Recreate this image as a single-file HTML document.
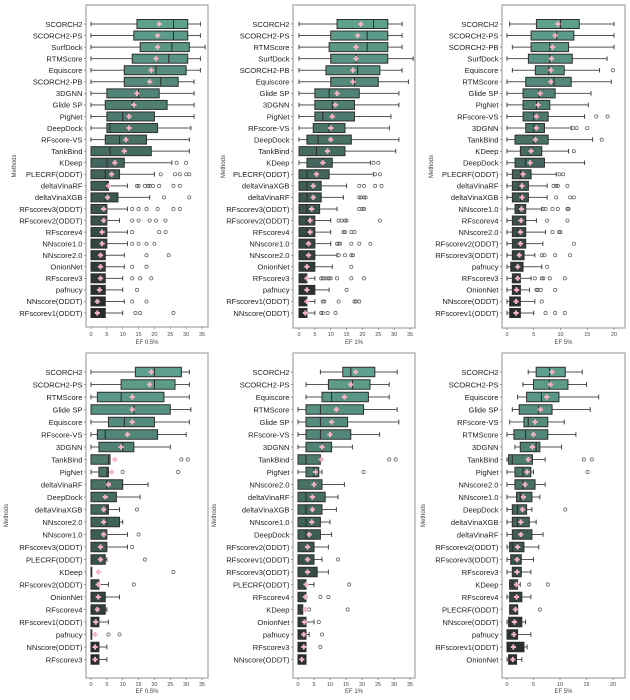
<!DOCTYPE html>
<html><head><meta charset="utf-8"><style>
html,body{margin:0;padding:0;background:#fff;}
svg{display:block;font-family:"Liberation Sans","DejaVu Sans",sans-serif;}
</style></head><body>
<svg id="s" width="630" height="700" viewBox="0 0 630 700" xmlns="http://www.w3.org/2000/svg"></svg>
<script>
const P=[
{fx0:86,fx1:208,fy0:5,fy1:327,x0:91,x1:202,max:35,ticks:[0,5,10,15,20,25,30,35],y0:24,step:11.56,bh:9,ty:334,xl:'EF 0.5%',xly:344,ylx:16,
d:[["SCORCH2",0,14.5,26,30.5,34.5,21.5],["SCORCH2-PS",0,13.5,26,30.5,34.5,21],["SurfDock",0,15.5,25.5,31,36,21],["RTMScore",0,13,24.5,30.5,34.5,20.5],["Equiscore",0,10.5,20.5,30,34.5,19],["SCORCH2-PB",0,10.5,22,27.5,32.5,18.5],["3DGNN",0,5,15,21.5,32.5,14.5],["Glide SP",0,4.5,13,24,32.5,13.5],["PigNet",0,5,10,20,32.5,12],["DeepDock",0,5,6,21,31.5,12],["RFscore-VS",0,4.5,9,17.5,31,11],["TankBind",0,0,6,19,31,10.5],["KDeep",0,0,5,10.5,25.5,7.5,27,30],["PLECRF(ODDT)",0,0,4.5,9,20,6.5,22,26.5,28,30,31],["deltaVinaRF",0,0,5,5.5,11.5,5.5,14.5,15,17,18,18.5,19.5,21.5,26,28],["deltaVinaXGB",0,0,4.5,8.5,18.5,5.2,23,31],["RFscorev3(ODDT)",0,0,4,5,11.5,4,13,15,17.5,21,26,28],["RFscorev2(ODDT)",0,0,4,5,9,4,13,15,18.5,20.5,23.5],["RFscorev4",0,0,4,5,11.5,3.5,13,21.5,23.5],["NNscore1.0",0,0,4,5,11.5,3.5,13,15,17.5,20],["NNscore2.0",0,0,3,4.5,10.5,3,17.5,24.5],["OnionNet",0,0,3,4.5,10.5,3,13,17.5],["RFscorev3",0,0,3,4.5,10,3,13,15.5,19],["pafnucy",0,0,3,4.5,10,2.7,14.5],["NNscore(ODDT)",0,0,2,4.5,10.5,2,13,17.5],["RFscorev1(ODDT)",0,0,2,4.5,10,2,14,15.5,26]]},
{fx0:293,fx1:415,fy0:5,fy1:328,x0:299,x1:410,max:35,ticks:[0,5,10,15,20,25,30,35],y0:24,step:11.56,bh:9,ty:334,xl:'EF 1%',xly:344,ylx:225,
d:[["SCORCH2",0,12,23.5,28,32.5,19.5],["SCORCH2-PS",0,10,21.5,28,32.5,18.5],["RTMScore",0,9.5,21.5,28,32.5,18],["SurfDock",0,10,18,28,36,18],["SCORCH2-PB",0,8.5,18.5,25.5,32.5,17],["Equiscore",0,10,17.5,25,34.5,17],["Glide SP",0,5,9.5,19,31.5,12],["3DGNN",0,5,10.5,17.5,31.5,11.5],["PigNet",0,5,7.5,17.5,29,10.5],["RFscore-VS",0,4.5,9.5,14.5,28.5,10],["DeepDock",0,2.5,6,16.5,31.5,10],["TankBind",0,0,5.5,14.5,30.5,9],["KDeep",0,2.5,7.5,10.5,22.5,7.5,23.5,25],["PLECRF(ODDT)",0,0,2.5,9.5,23.5,5.5,24,25.5],["deltaVinaXGB",0,0,2.5,7,15,4.5,19,20.5,24,26],["deltaVinaRF",0,0,2.5,7,14,4.5,19,19.5,20.5,21],["RFscorev3(ODDT)",0,0,2.5,6.5,12,4,19,20,20.5],["RFscorev2(ODDT)",0,0,2.5,5,10,3.5,12.5,13.5,14.5,15,25.5],["RFscorev4",0,0,2.5,5,10,3.5,14,14.5,16.5,17.5],["NNscore1.0",0,0,2.5,5,10,3,12,12.5,13,16.5,19,22.5],["NNscore2.0",0,0,2.5,5,12,3,12.5,14.5,16.5,17],["OnionNet",0,0,2.5,5,10.5,2.5,16.5],["RFscorev3",0,0,0,2.5,5,2.5,7,7.5,8,9,9.5,10,12,16.5,20.5],["pafnucy",0,0,2.5,5,9.5,2.5,15],["RFscorev1(ODDT)",0,0,0,2.5,5,2.5,7.5,8,12.5,17.5,18,19],["NNscore(ODDT)",0,0,0,2.5,5,2,7,7.5,9,11.5]]},
{fx0:502,fx1:625,fy0:5,fy1:328,x0:507,x1:614,max:20,ticks:[0,5,10,15,20],y0:24,step:11.56,bh:9,ty:334,xl:'EF 5%',xly:344,ylx:433,
d:[["SCORCH2",0.5,5.5,10,13.5,20,9.5],["SCORCH2-PS",0,4.5,9.3,12.5,20,9],["SCORCH2-PB",1,4.5,8,11.5,20,8.5],["SurfDock",0,4,8,12.2,18.7,8.3],["Equiscore",1,5.3,7.8,10.7,17.3,8.2,19.8],["RTMScore",0,3.5,8.8,12,19.5,8.2],["Glide SP",0,3,6,9,15.7,6.2],["PigNet",0,3,5.5,8,15.2,5.8],["RFscore-VS",0,3,5,7.7,14.5,5.5,16.7,18.8],["3DGNN",0,3.5,5,7,12,5.5,12.3,13,15],["TankBind",0,1.5,5,7.7,16,5.3,17.7],["KDeep",0,2.5,4.5,6.5,11.5,4.5,12.5],["DeepDock",0,1.5,3.5,7,14.5,4.3],["PLECRF(ODDT)",0,1,2.5,4.5,9.2,3,9.8,10.5],["deltaVinaRF",0,1,2.2,4,7.5,2.8,8.7,9.2,9.5,11.3],["deltaVinaXGB",0,1,2.5,4,7.5,2.8,9.2,11.8,12.5],["NNscore1.0",0,1.5,2.2,3.5,6.5,2.7,6.7,7.2,8.5,9.5,11.3,11.5],["RFscorev4",0,1,2.5,3.5,5.5,2.6,7.5,11.3],["NNscore2.0",0,1,2,3.5,7.2,2.5,8.5,9.7,10],["RFscorev2(ODDT)",0,1,2.2,3.5,6.7,2.5,12.5],["RFscorev3(ODDT)",0,1,2.2,3.2,5.2,2.3,6.5,7,9,11.8],["pafnucy",0,0.7,1.5,3,6.5,2,7.5],["RFscorev3",0,1,1.8,2.5,4.5,2,5.2,6.5,6.8,8,10.8],["OnionNet",0,1,2,2.5,4.2,1.8,5.5,5.7,6.3,9],["NNscore(ODDT)",0,0.5,1.5,2.5,5.2,1.7,6.5],["RFscorev1(ODDT)",0,0.5,1.5,2.5,5,1.7,7.2,9,10.8]]},
{fx0:86,fx1:208,fy0:353,fy1:678,x0:91,x1:202,max:35,ticks:[0,5,10,15,20,25,30,35],y0:372,step:12.5,bh:9.5,ty:684,xl:'EF 0.5%',xly:693,ylx:8,
d:[["SCORCH2",0,14,20,28.5,31,19],["SCORCH2-PS",0,9.5,20,26.5,31,18.5],["RTMScore",0,2,9.5,23,31,13],["Glide SP",0,0,13.5,25,31.5,13],["Equiscore",0,5.5,10.5,20,31,13],["RFscore-VS",0,2,4.5,21,30,11.5],["3DGNN",0,2.5,10,13.5,25,9.5],["TankBind",0,0,5.5,6,6,7.5,28.5,30.5],["PigNet",0,2.5,5,5.5,5.5,6.5,10,27.5],["deltaVinaRF",0,0,5,10,18,5.5],["DeepDock",0,0,4.5,8,15.5,4.5],["deltaVinaXGB",0,0,5,5.5,9,4,14.5],["NNscore2.0",0,0,5,9,10,4],["NNscore1.0",0,0,0,5,11.5,4,15],["RFscorev3(ODDT)",0,0,0,5,11.5,3,13],["PLECRF(ODDT)",0,0,0,4.5,5,3,17],["KDeep",0,0,0,0,0,2.3,26],["RFscorev2(ODDT)",0,0,0,2.5,5.5,2.3,13.5],["OnionNet",0,0,0,4.5,9,2.3],["RFscorev4",0,0,0,4.5,5,2],["RFscorev1(ODDT)",0,0,0,2.5,5.5,1.5],["pafnucy",0,0,0,0,0,1.3,5.5,9],["NNscore(ODDT)",0,0,0,2.5,5,1.3],["RFscorev3",0,0,0,2.5,5,1.3]]},
{fx0:293,fx1:415,fy0:353,fy1:678,x0:298,x1:410,max:35,ticks:[0,5,10,15,20,25,30,35],y0:372,step:12.5,bh:9.5,ty:684,xl:'EF 1%',xly:693,ylx:216,
d:[["SCORCH2",7,14,16.5,24,31,18],["SCORCH2-PS",2.5,9.5,17,22.5,28.5,16.5],["Equiscore",2.5,7.5,10.5,22,28.5,14.5],["RTMScore",0,2.5,7,20.5,31,12],["Glide SP",0,2.5,7,15.5,31.5,10.5],["RFscore-VS",0,2.5,7,16.5,25.5,10],["3DGNN",0,2.5,7.5,10.5,17,7.5],["TankBind",0,0,2.5,7,7.5,7.3,28.5,30.5],["PigNet",0,2.5,5,6.5,7.5,5.5,20.5],["NNscore2.0",0,0,0,7.5,14.5,5],["deltaVinaRF",0,0,2.5,8.5,12.5,4.5],["deltaVinaXGB",0,0,2.5,7.5,12,4.5],["NNscore1.0",0,0,2.5,7,10,4.3],["DeepDock",0,0,2.5,7,10.5,3.5],["RFscorev2(ODDT)",0,0,0,5,9.5,3],["RFscorev1(ODDT)",0,0,0,5,7.5,3,12.5],["RFscorev3(ODDT)",0,0,0,6,9.5,3],["PLECRF(ODDT)",0,0,0,2.5,5,2.5,16],["RFscorev4",0,0,0,2.5,2.5,2.3,7,9.5],["KDeep",0,0,0,1.5,2.5,2.3,3.5,15.5],["OnionNet",0,0,0,2.5,5,2,6.5],["pafnucy",0,0,0,2.5,3.5,1.8,7.5],["RFscorev3",0,0,0,2.5,2.5,1.8,7],["NNscore(ODDT)",0,0,0,2.5,2.5,1.2]]},
{fx0:502,fx1:625,fy0:353,fy1:678,x0:507,x1:613,max:20,ticks:[0,5,10,15,20],y0:372,step:12.5,bh:9.5,ty:684,xl:'EF 5%',xly:693,ylx:425,
d:[["SCORCH2",4,5.5,8,11,14.2,8.5],["SCORCH2-PS",3,5,8,11.5,15,8.2],["Equiscore",2,3.7,6.5,9.8,17.3,7.5],["Glide SP",1,2.3,6,8.5,15.7,6.3],["RFscore-VS",0.5,3.2,4,7.7,10.8,5.3],["RTMScore",0,1.3,3.5,7.7,13,5],["3DGNN",1.5,2.5,5.5,6.2,10.3,4.8],["TankBind",0,0.3,1,4.8,7.2,4,14.5,16],["PigNet",0,1.5,3,4.5,5,3.8,15.2],["NNscore2.0",0,1.5,3,5.3,7.2,3.4],["NNscore1.0",0,1.8,2.5,4.7,6.2,3.1],["DeepDock",0,1,2,3.7,4.7,2.9,11],["deltaVinaXGB",0,1,2,4.2,5.5,2.6],["deltaVinaRF",0,1,2.5,4.7,6.8,2.6],["RFscorev2(ODDT)",0,0.5,1,3.2,6,2],["RFscorev3(ODDT)",0,0.7,1.7,2.7,5,1.9],["RFscorev3",0,1,1.7,2.7,4.5,1.9],["KDeep",0.5,0.5,1,2,2.5,1.8,4.2,7.7],["RFscorev4",0,0.5,1.5,2.8,4.5,1.8],["PLECRF(ODDT)",0.5,0.5,2,2,2,1.6,6.2],["NNscore(ODDT)",0,0.3,0.5,2.8,3.5,1.4],["pafnucy",0,0,0.5,2,4.5,1.3],["RFscorev1(ODDT)",0,0,0,3.2,3.8,1.2],["OnionNet",0,0.3,0.5,1.8,2.8,1.1]]}
];
let h='';
const c0=[94,160,142],c1=[38,42,41];
for(const p of P){
 const X=v=>p.x0+(p.x1-p.x0)*v/p.max;
 h+=`<rect x="${p.fx0}" y="${p.fy0}" width="${p.fx1-p.fx0}" height="${p.fy1-p.fy0}" fill="none" stroke="#aaa" stroke-width="1.3"/>`;
 for(const t of p.ticks){const x=X(t);h+=`<line x1="${x}" y1="${p.fy1}" x2="${x}" y2="${p.fy1+2}" stroke="#666" stroke-width="0.6"/><text x="${x}" y="${p.ty+2}" font-size="5.5" fill="#444" text-anchor="middle">${t}</text>`;}
 h+=`<text x="${(p.fx0+p.fx1)/2}" y="${p.xly}" font-size="6" fill="#444" text-anchor="middle">${p.xl}</text>`;
 const my=(p.fy0+p.fy1)/2;
 h+=`<text x="${p.ylx}" y="${my}" font-size="6" fill="#444" text-anchor="middle" transform="rotate(-90 ${p.ylx} ${my})">Methods</text>`;
 const n=p.d.length;
 p.d.forEach((r,i)=>{
  const y=p.y0+i*p.step, f=i/(n-1);
  const col=`rgb(${c0.map((a,k)=>Math.round(a+(c1[k]-a)*f)).join(',')})`;
  const [nm,wl,q1,md,q3,wh,mn,...o]=r;
  h+=`<line x1="${p.fx0-2}" y1="${y}" x2="${p.fx0}" y2="${y}" stroke="#666" stroke-width="0.6"/><text x="${p.fx0-3.5}" y="${y+2.8}" font-size="7.6" fill="#222" text-anchor="end">${nm}</text>`;
  const hb=p.bh/2;
  h+=`<line x1="${X(wl)}" y1="${y}" x2="${X(q1)}" y2="${y}" stroke="#555" stroke-width="1"/><line x1="${X(q3)}" y1="${y}" x2="${X(wh)}" y2="${y}" stroke="#555" stroke-width="1"/>`;
  h+=`<line x1="${X(wl)}" y1="${y-hb/2}" x2="${X(wl)}" y2="${y+hb/2}" stroke="#444" stroke-width="1"/><line x1="${X(wh)}" y1="${y-hb/2}" x2="${X(wh)}" y2="${y+hb/2}" stroke="#444" stroke-width="1"/>`;
  h+=`<rect x="${X(q1)}" y="${y-hb}" width="${Math.max(X(q3)-X(q1),0.8)}" height="${p.bh}" fill="${col}" stroke="#2e2e2e" stroke-width="1"/>`;
  h+=`<line x1="${X(md)}" y1="${y-hb}" x2="${X(md)}" y2="${y+hb}" stroke="#2a2a2a" stroke-width="1"/>`;
  for(const v of o)h+=`<circle cx="${X(v)}" cy="${y}" r="1.6" fill="none" stroke="#555" stroke-width="0.7"/>`;
  const mx=X(mn);
  h+=`<path d="M${mx-1} ${y-2.6}h2v1.6h1.6v2h-1.6v1.6h-2v-1.6h-1.6v-2h1.6z" fill="#f6b3c4"/>`;
 });
}
document.getElementById('s').innerHTML=h;
</script>
</body></html>
